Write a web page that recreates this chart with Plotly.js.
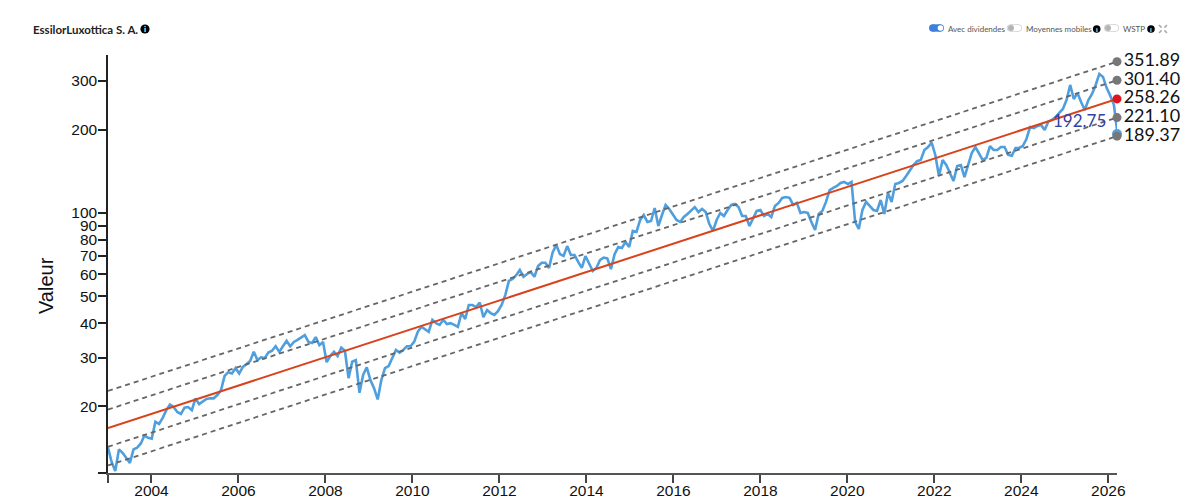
<!DOCTYPE html>
<html>
<head>
<meta charset="utf-8">
<script src="https://cdn.plot.ly/plotly-3.0.1.min.js"></script>
<style>body { margin: 0; background: #fff; }</style>
</head>
<body>
<div id="plot"></div>
<script>
const startYear = 2003;
const endYear = 2026.2;
const stepYears = 0.0838;

const prices = [
  14.2, 12.6, 11.7, 14.0, 13.6, 13.0, 12.5, 14.0, 14.2, 14.7, 15.7, 15.4,
  15.3, 17.6, 17.3, 18.2, 19.4, 20.3, 19.9, 19.1, 18.8, 19.8, 19.9, 19.4,
  21.4, 20.4, 20.9, 21.3, 21.4, 21.4, 22.0, 22.9, 25.8, 26.6, 26.3, 27.5,
  26.3, 27.8, 28.4, 29.2, 31.5, 29.4, 30.1, 29.9, 31.3, 31.8, 33.0, 31.5,
  33.0, 34.5, 33.0, 34.2, 34.8, 35.4, 36.2, 34.2, 33.9, 35.6, 33.3, 34.2,
  28.9, 30.4, 31.5, 30.4, 32.6, 31.8, 25.3, 29.0, 29.4, 22.4, 26.0, 27.7,
  24.9, 23.3, 21.2, 24.9, 27.5, 28.0, 29.9, 32.0, 31.3, 32.0, 33.0, 33.0,
  34.2, 37.2, 38.8, 38.1, 37.2, 41.1, 40.0, 39.4, 41.1, 39.7, 40.0, 39.4,
  38.8, 43.5, 41.4, 46.5, 46.5, 45.7, 47.5, 42.0, 44.6, 43.5, 42.8, 44.2,
  46.5, 50.5, 56.8, 57.8, 59.6, 62.2, 58.8, 60.2, 61.2, 58.8, 64.3, 66.1,
  66.1, 63.3, 72.0, 76.6, 71.0, 69.9, 75.9, 70.5, 70.5, 66.6, 63.3, 69.9,
  66.1, 61.7, 63.3, 67.6, 69.0, 68.5, 62.7, 71.0, 75.3, 74.7, 78.6, 75.3,
  86.1, 85.4, 94.3, 98.3, 92.8, 93.5, 104.2, 89.7, 98.3, 106.9, 103.4, 98.3,
  94.3, 92.8, 96.7, 99.2, 102.5, 105.0, 100.8, 103.4, 100.8, 91.2, 86.1, 94.3,
  100.0, 97.5, 102.5, 106.9, 107.8, 105.0, 97.5, 97.5, 89.7, 95.8, 101.7, 102.5,
  97.5, 99.2, 96.7, 106.0, 108.7, 113.3, 114.2, 113.3, 106.9, 108.7, 100.0, 100.8,
  100.0, 92.8, 86.8, 99.2, 101.7, 109.6, 121.0, 123.2, 125.1, 128.3, 129.4, 127.2,
  129.4, 92.8, 87.5, 102.5, 109.6, 106.0, 102.5, 101.7, 111.4, 99.2, 118.0, 109.6,
  127.2, 128.3, 130.5, 136.0, 143.0, 149.0, 153.8, 155.4, 168.9, 173.0, 179.5, 162.0,
  136.0, 155.4, 149.0, 139.6, 130.5, 147.7, 149.0, 134.8, 149.0, 164.7, 173.0, 164.7,
  155.4, 158.0, 174.5, 168.9, 168.9, 173.0, 173.0, 162.0, 161.0, 171.7, 171.7, 174.5,
  185.0, 204.4, 202.7, 206.0, 208.0, 199.4, 213.6, 216.7, 222.0, 229.8, 237.5, 255.9,
  290.0, 258.0, 271.0, 251.7, 235.5, 255.9, 269.0, 290.0, 318.0, 310.0, 283.0, 265.0,
  246.0, 192.75
];

// trend channel, value at the start and at the end of the period
const trendStart = 16.7;
const trendEnd = 258.26;
const bandStart = [22.75, 19.49, 14.3, 12.24];
const bandEnd = [351.89, 301.4, 221.1, 189.37];

const yTicks = [20, 30, 40, 50, 60, 70, 80, 90, 100, 200, 300];
const xTicks = [2004, 2006, 2008, 2010, 2012, 2014, 2016, 2018, 2020, 2022, 2024, 2026];

const years = prices.map((_, i) => startYear + i * stepYears);
const lastPrice = prices[prices.length - 1];

// page furniture is placed in pixels of the 1199x504 window
const plotLeft = 108, plotRight = 1117, plotTop = 55, plotBottom = 473;
const px = (x) => (x - plotLeft) / (plotRight - plotLeft);
const py = (y) => (plotBottom - y) / (plotBottom - plotTop);

const traces = [{
  x: years,
  y: prices,
  mode: 'lines',
  line: { color: '#4f9fdf', width: 2.6 },
  hoverinfo: 'x+y',
}];

bandStart.forEach((v, i) => {
  traces.push({
    x: [startYear, endYear],
    y: [v, bandEnd[i]],
    mode: 'lines',
    line: { color: '#666', width: 1.8, dash: '5px,4px' },
    hoverinfo: 'skip',
  });
});

traces.push({
  x: [startYear, endYear],
  y: [trendStart, trendEnd],
  mode: 'lines',
  line: { color: '#d8431c', width: 2 },
  hoverinfo: 'skip',
});

traces.push({
  x: [endYear],
  y: [lastPrice],
  mode: 'markers',
  marker: { color: '#4f9fdf', size: 10 },
  cliponaxis: false,
  hoverinfo: 'skip',
});

traces.push({
  x: bandEnd.map(() => endYear),
  y: bandEnd,
  mode: 'markers+text',
  marker: { color: '#777', size: 9 },
  text: bandEnd.map((v) => v.toFixed(2)),
  textposition: 'middle right',
  textfont: { family: 'Lato', size: 18, color: '#111' },
  cliponaxis: false,
  hoverinfo: 'skip',
});

traces.push({
  x: [endYear],
  y: [trendEnd],
  mode: 'markers+text',
  marker: { color: '#e0141e', size: 9 },
  text: [trendEnd.toFixed(2)],
  textposition: 'middle right',
  textfont: { family: 'Lato', size: 18, color: '#111' },
  cliponaxis: false,
  hoverinfo: 'skip',
});

const shapes = [];
const annotations = [];

function circle(cx, cy, r, color) {
  shapes.push({
    type: 'circle', xref: 'paper', yref: 'paper', layer: 'above',
    x0: px(cx - r), x1: px(cx + r), y0: py(cy + r), y1: py(cy - r),
    fillcolor: color, line: { width: 0 },
  });
}

function pill(x0, x1, cy, r, color) {
  circle(x0 + r, cy, r, color);
  circle(x1 - r, cy, r, color);
  shapes.push({
    type: 'rect', xref: 'paper', yref: 'paper', layer: 'above',
    x0: px(x0 + r), x1: px(x1 - r), y0: py(cy + r), y1: py(cy - r),
    fillcolor: color, line: { width: 0 },
  });
}

function offToggle(x0, x1, cy) {
  pill(x0, x1, cy, 3.7, '#d2d2d2');
  pill(x0 + 0.8, x1 - 0.8, cy, 2.9, '#fff');
  circle(x0 + 4, cy, 3, '#b5b5b5');
}

function label(x, y, text, size, color, anchor, weight) {
  annotations.push({
    xref: 'paper', yref: 'paper', x: px(x), y: py(y),
    text: text, showarrow: false, xanchor: anchor, yanchor: 'middle',
    borderpad: 0, borderwidth: 0,
    font: { family: 'Lato', size: size, color: color, weight: weight || 400 },
  });
}

function infoIcon(cx, cy, r) {
  circle(cx, cy, r, '#000');
  label(cx, cy, 'i', r * 1.7, '#fff', 'center', 700);
}

label(33, 29, 'EssilorLuxottica S. A.', 11.5, '#222', 'left', 700);
infoIcon(145, 29, 4.6);

pill(929, 944, 28, 3.7, '#3f7fdc');
circle(940.5, 28, 2.8, '#fff');
label(948, 29, 'Avec dividendes', 8, '#555', 'left');

offToggle(1007, 1022, 28);
label(1026, 29, 'Moyennes mobiles', 8, '#555', 'left');
infoIcon(1096.7, 29, 3.8);

offToggle(1104, 1119, 28);
label(1123, 29, 'WSTP', 8, '#555', 'left');
infoIcon(1151, 29, 3.8);

// small expand icon
[[1159, 25], [1167, 25], [1159, 33], [1167, 33]].forEach((c) => {
  const dx = c[0] < 1163 ? 2.6 : -2.6;
  const dy = c[1] < 29 ? 2.6 : -2.6;
  shapes.push({
    type: 'line', xref: 'paper', yref: 'paper', layer: 'above',
    x0: px(c[0]), y0: py(c[1]), x1: px(c[0] + dx), y1: py(c[1] + dy),
    line: { color: '#aaa', width: 1.6 },
  });
});

annotations.push({
  x: endYear,
  y: Math.log10(lastPrice),
  xref: 'x', yref: 'y',
  text: lastPrice.toFixed(2),
  showarrow: false,
  xanchor: 'right',
  xshift: -9,
  yshift: 14,
  font: { family: 'Lato', size: 17, color: '#3340a5' },
});

// the axis title sits below the middle of the axis in the original
annotations.push({
  xref: 'paper', yref: 'paper', x: px(46), y: py(286),
  xanchor: 'center',
  yanchor: 'middle',
  text: 'Valeur',
  textangle: -90,
  showarrow: false,
  font: { family: 'Liberation Sans', size: 20, color: '#111' },
});

const layout = {
  width: 1199,
  height: 504,
  autosize: false,
  showlegend: false,
  paper_bgcolor: '#fff',
  plot_bgcolor: '#fff',
  margin: { l: plotLeft, r: 1199 - plotRight, t: plotTop, b: 504 - plotBottom, pad: 0 },
  font: { family: 'Liberation Sans', color: '#111' },
  xaxis: {
    range: [startYear, endYear],
    tickmode: 'array',
    tickvals: [startYear].concat(xTicks),
    ticktext: [''].concat(xTicks.map(String)),
    ticks: 'outside',
    ticklen: 8,
    tickcolor: '#444',
    tickwidth: 1.5,
    tickfont: { size: 15.5 },
    ticklabelstandoff: -6,
    showline: true,
    linecolor: '#555',
    linewidth: 2,
    showgrid: false,
    zeroline: false,
  },
  yaxis: {
    type: 'log',
    range: [Math.log10(11.5), Math.log10(372)],
    tickmode: 'array',
    tickvals: [11.5].concat(yTicks),
    ticktext: [''].concat(yTicks.map(String)),
    ticks: 'outside',
    ticklen: 8,
    tickcolor: '#222',
    tickwidth: 1.5,
    tickfont: { size: 15.5 },
    ticklabelstandoff: -2,
    showline: true,
    linecolor: '#222',
    linewidth: 1.5,
    showgrid: false,
    zeroline: false,
  },
  shapes: shapes,
  annotations: annotations,
};

Plotly.newPlot('plot', traces, layout, { displayModeBar: false });
</script>
</body>
</html>
